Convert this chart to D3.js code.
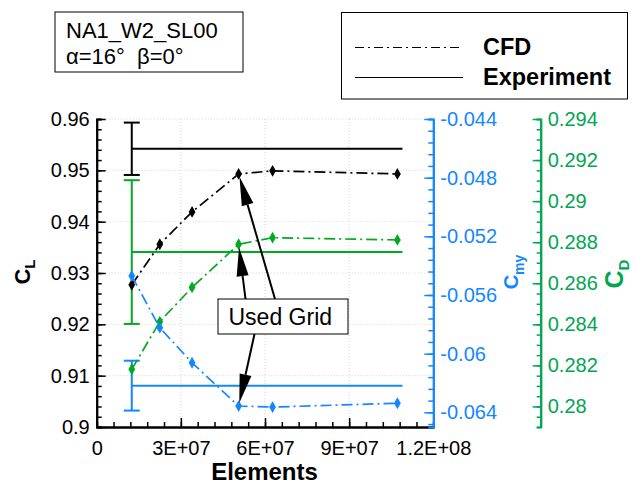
<!DOCTYPE html>
<html lang="en">
<head>
    <meta charset="UTF-8">
    <title>Grid convergence NA1_W2_SL00</title>
    <script src="https://d3js.org/d3.v7.min.js"></script>
    <style>
        body { margin: 0; background: #fff; }
        svg { display: block; font-family: "Liberation Sans", Arial, sans-serif; }
        .tick text { font-size: 20px; }
    </style>
</head>
<body>
    <svg id="chart" width="633" height="484"></svg>

    <script>
        // data
        const elements = [1.25e7, 2.25e7, 3.4e7, 5.06e7, 6.27e7, 1.072e8];
        const cfdCL  = [0.9277, 0.9356, 0.9419, 0.9493, 0.9499, 0.9493];
        const cfdCD  = [0.28181, 0.28413, 0.2858, 0.2879, 0.28822, 0.28811];
        const cfdCmy = [-0.0547, -0.05823, -0.06062, -0.06357, -0.06364, -0.06338];
        const usedGrid = 3;

        const expRange = [1.25e7, 1.09e8];
        const expCL  = 0.9542,   expCLerr  = 0.0051;
        const expCD  = 0.28752,  expCDerr  = 0.0035;
        const expCmy = -0.06218, expCmyerr = 0.0017;

        const xTicks = [0, 3e7, 6e7, 9e7, 1.2e8];
        const xTickLabels = ["0", "3E+07", "6E+07", "9E+07", "1.2E+08"];
        const clTicks = [0.9, 0.91, 0.92, 0.93, 0.94, 0.95, 0.96];
        const clTickLabels = ["0.9", "0.91", "0.92", "0.93", "0.94", "0.95", "0.96"];
        const cmyTicks = [-0.064, -0.06, -0.056, -0.052, -0.048, -0.044];
        const cmyTickLabels = ["-0.064", "-0.06", "-0.056", "-0.052", "-0.048", "-0.044"];
        const cdTicks = [0.28, 0.282, 0.284, 0.286, 0.288, 0.29, 0.292, 0.294];
        const cdTickLabels = ["0.28", "0.282", "0.284", "0.286", "0.288", "0.29", "0.292", "0.294"];

        const blue = "#1487ff", green = "#00aa22", greenAxis = "#00a651";

        // plot frame
        const plotLeft = 96.7, plotRight = 433.3, plotTop = 119, plotBottom = 427;
        const cdAxisX = 540.7;

        const svg = d3.select("#chart");

        const x = d3.scaleLinear().domain([0, 1.2e8]).range([plotLeft, plotRight]);
        const yCL = d3.scaleLinear().domain([0.9, 0.96]).range([plotBottom, plotTop]);
        const yCmy = d3.scaleLinear().domain([-0.065, -0.044]).range([plotBottom, plotTop]);
        const yCD = d3.scaleLinear().domain([0.279, 0.294]).range([plotBottom, plotTop]);

        const steps = (a, b, s) => d3.range(Math.round((b - a) / s) + 1).map(i => a + i * s);

        // dotted grid
        const grid = svg.append("g")
            .attr("stroke", "#d4d4d4").attr("stroke-width", 1).attr("stroke-dasharray", "1,2");
        grid.selectAll(".gy").data(clTicks.slice(1)).enter().append("line")
            .attr("x1", plotLeft).attr("x2", plotRight)
            .attr("y1", d => yCL(d)).attr("y2", d => yCL(d));
        grid.selectAll(".gx").data(xTicks.slice(1, -1)).enter().append("line")
            .attr("x1", d => x(d)).attr("x2", d => x(d))
            .attr("y1", plotTop).attr("y2", plotBottom);

        // experiment lines with error bars
        const exps = [
            {y: yCL, v: expCL, e: expCLerr, color: "#000"},
            {y: yCD, v: expCD, e: expCDerr, color: green},
            {y: yCmy, v: expCmy, e: expCmyerr, color: blue}
        ];
        exps.forEach(s => {
            const g = svg.append("g").attr("stroke", s.color).attr("stroke-width", 2);
            g.append("line")
                .attr("x1", x(expRange[0])).attr("x2", x(expRange[1]))
                .attr("y1", s.y(s.v)).attr("y2", s.y(s.v));
            const xe = x(elements[0]);
            g.append("line")
                .attr("x1", xe).attr("x2", xe)
                .attr("y1", s.y(s.v - s.e)).attr("y2", s.y(s.v + s.e));
            [s.v - s.e, s.v + s.e].forEach(v => {
                g.append("line")
                    .attr("x1", xe - 8).attr("x2", xe + 8)
                    .attr("y1", s.y(v)).attr("y2", s.y(v));
            });
        });

        // CFD lines and markers
        const cfd = [
            {y: yCL, vals: cfdCL, color: "#000"},
            {y: yCD, vals: cfdCD, color: green},
            {y: yCmy, vals: cfdCmy, color: blue}
        ];
        const diamond = d3.symbol().type(d3.symbolDiamond).size(40);
        cfd.forEach(s => {
            const line = d3.line().x((d, i) => x(elements[i])).y(d => s.y(d));
            svg.append("path")
                .datum(s.vals)
                .attr("d", line)
                .attr("fill", "none")
                .attr("stroke", s.color)
                .attr("stroke-width", 1.7)
                .attr("stroke-dasharray", "11,4,2,4");
            svg.selectAll(null).data(s.vals).enter().append("path")
                .attr("d", diamond)
                .attr("transform", (d, i) => `translate(${x(elements[i])},${s.y(d)})`)
                .attr("fill", s.color);
        });

        // axes
        function styleAxis(g, color, width) {
            g.select(".domain").attr("stroke", color).attr("stroke-width", width);
            g.selectAll(".tick line").attr("stroke", color).attr("stroke-width", 1.5);
            g.selectAll(".tick text").attr("fill", color);
        }

        // bottom
        svg.append("g").attr("transform", `translate(0,${plotBottom})`)
            .call(d3.axisBottom(x).tickValues(steps(0, 1.2e8, 6e6)).tickSize(-5).tickFormat(""))
            .call(g => styleAxis(g, "#000", 2));
        svg.append("g").attr("transform", `translate(0,${plotBottom})`)
            .call(d3.axisBottom(x).tickValues(xTicks).tickSizeInner(-9).tickSizeOuter(0)
                .tickPadding(14).tickFormat((d, i) => xTickLabels[i]))
            .call(g => styleAxis(g, "#000", 2));

        // left CL
        svg.append("g").attr("transform", `translate(${plotLeft},0)`)
            .call(d3.axisLeft(yCL).tickValues(steps(0.9, 0.96, 0.002)).tickSize(-5).tickFormat(""))
            .call(g => styleAxis(g, "#000", 2));
        svg.append("g").attr("transform", `translate(${plotLeft},0)`)
            .call(d3.axisLeft(yCL).tickValues(clTicks).tickSizeInner(-9).tickSizeOuter(0)
                .tickPadding(7).tickFormat((d, i) => clTickLabels[i]))
            .call(g => styleAxis(g, "#000", 2));

        // right Cmy
        svg.append("g").attr("transform", `translate(${plotRight},0)`)
            .call(d3.axisRight(yCmy).tickValues(steps(-0.0648, -0.044, 0.0008)).tickSize(-5).tickFormat(""))
            .call(g => styleAxis(g, blue, 2));
        svg.append("g").attr("transform", `translate(${plotRight},0)`)
            .call(d3.axisRight(yCmy).tickValues(cmyTicks).tickSizeInner(-9).tickSizeOuter(0)
                .tickPadding(7).tickFormat((d, i) => cmyTickLabels[i]))
            .call(g => styleAxis(g, blue, 2));

        // right CD
        svg.append("g").attr("transform", `translate(${cdAxisX},0)`)
            .call(d3.axisRight(yCD).tickValues(steps(0.279, 0.294, 0.0005)).tickSize(-4).tickFormat(""))
            .call(g => styleAxis(g, greenAxis, 2));
        svg.append("g").attr("transform", `translate(${cdAxisX},0)`)
            .call(d3.axisRight(yCD).tickValues(cdTicks).tickSizeInner(-8).tickSizeOuter(0)
                .tickPadding(7).tickFormat((d, i) => cdTickLabels[i]))
            .call(g => styleAxis(g, greenAxis, 2));

        // axis titles
        svg.append("text")
            .attr("x", (plotLeft + plotRight) / 2 - 0.5).attr("y", 480)
            .attr("text-anchor", "middle")
            .attr("font-size", 24).attr("font-weight", "bold")
            .text("Elements");

        function vTitle(px, py, main, sub, color, size, subSize, shift) {
            const t = svg.append("text")
                .attr("transform", `translate(${px},${py}) rotate(-90)`)
                .attr("text-anchor", "middle")
                .attr("font-weight", "bold")
                .attr("fill", color);
            t.append("tspan").attr("font-size", size).text(main);
            t.append("tspan").attr("font-size", subSize).attr("dy", shift).text(sub);
        }
        vTitle(30, 272, "C", "L", "#000", 22, 15, 5);
        vTitle(518, 272, "C", "my", blue, 20, 14, 6);
        vTitle(623, 274, "C", "D", greenAxis, 25, 15, 6);

        // info box
        const info = svg.append("g");
        info.append("rect")
            .attr("x", 55).attr("y", 12).attr("width", 188).attr("height", 60)
            .attr("fill", "#fff").attr("stroke", "#000").attr("stroke-width", 1);
        info.append("text").attr("x", 66).attr("y", 37.5).attr("font-size", 22)
            .text("NA1_W2_SL00");
        info.append("text").attr("x", 66).attr("y", 63.5).attr("font-size", 22)
            .attr("xml:space", "preserve")
            .text("\u03b1=16\u00b0  \u03b2=0\u00b0");

        // legend
        const legend = svg.append("g");
        legend.append("rect")
            .attr("x", 341.5).attr("y", 12.5).attr("width", 286).attr("height", 86.5)
            .attr("fill", "#fff").attr("stroke", "#000").attr("stroke-width", 1);
        legend.append("line")
            .attr("x1", 355).attr("x2", 463).attr("y1", 47.5).attr("y2", 47.5)
            .attr("stroke", "#000").attr("stroke-width", 1).attr("stroke-dasharray", "9,4,2,4");
        legend.append("line")
            .attr("x1", 355).attr("x2", 463).attr("y1", 77.5).attr("y2", 77.5)
            .attr("stroke", "#000").attr("stroke-width", 1.2);
        legend.append("text").attr("x", 483).attr("y", 54.5)
            .attr("font-size", 23.5).attr("font-weight", "bold").text("CFD");
        legend.append("text").attr("x", 483).attr("y", 84.5)
            .attr("font-size", 23.5).attr("font-weight", "bold").text("Experiment");

        // "Used Grid" annotation
        const ann = svg.append("g");
        const arrows = [
            {from: [275, 299], y: yCL, v: cfdCL[usedGrid]},
            {from: [245.5, 299], y: yCD, v: cfdCD[usedGrid]},
            {from: [254.5, 334], y: yCmy, v: cfdCmy[usedGrid]}
        ];
        arrows.forEach(a => {
            const tx = x(elements[usedGrid]), ty = a.y(a.v);
            const dx = a.from[0] - tx, dy = a.from[1] - ty;
            const len = Math.hypot(dx, dy), ux = dx / len, uy = dy / len;
            const tipX = tx + ux * 3, tipY = ty + uy * 3;
            const bx = tipX + ux * 29, by = tipY + uy * 29;
            ann.append("line")
                .attr("x1", a.from[0]).attr("y1", a.from[1])
                .attr("x2", bx).attr("y2", by)
                .attr("stroke", "#000").attr("stroke-width", 2);
            ann.append("path")
                .attr("d", `M${tipX},${tipY}L${bx - uy * 6},${by + ux * 6}L${bx + uy * 6},${by - ux * 6}Z`)
                .attr("fill", "#000");
        });
        ann.append("rect")
            .attr("x", 218).attr("y", 299).attr("width", 130).attr("height", 35)
            .attr("fill", "#fff").attr("stroke", "#000").attr("stroke-width", 1);
        ann.append("text").attr("x", 228.5).attr("y", 324.5)
            .attr("font-size", 23).text("Used Grid");
    </script>
</body>
</html>
